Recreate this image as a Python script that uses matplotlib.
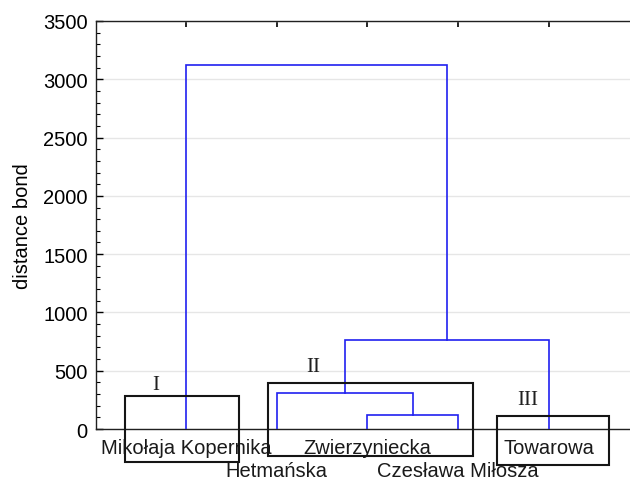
import matplotlib
matplotlib.use("Agg")
import matplotlib.pyplot as plt
from matplotlib.patches import Rectangle
from matplotlib.ticker import MultipleLocator

# ---- data ----
leaves = ["Mikołaja Kopernika", "Hetmańska", "Zwierzyniecka", "Czesława Miłosza", "Towarowa"]
# merges: (child_a, child_b, height); new nodes numbered from len(leaves)
merge_a = [2, 1, 6, 0]
merge_b = [3, 5, 4, 7]
merge_h = [120, 310, 765, 3120]
group_names = ["I", "II", "III"]

# ---- annotation geometry (data coords) ----
boxes = [(0.33, -283, 1.584, 283), (1.904, -231, 4.163, 394), (4.427, -309, 5.661, 111)]
group_pos = [(0.67, 386), (2.40, 535), (4.77, 257)]

plt.rcParams['font.family'] = ['Liberation Sans', 'DejaVu Sans']
fig = plt.figure(figsize=(6.30, 4.81), dpi=100)
ax = fig.add_axes([96/630, 1-430/481, 1-96/630, (430-22)/481])

# node coordinates
xs = {i: i + 1 for i in range(len(leaves))}
hs = {i: 0 for i in range(len(leaves))}
blue = '#2020f0'
for k, (a, b, h) in enumerate(zip(merge_a, merge_b, merge_h)):
    node = len(leaves) + k
    ax.plot([xs[a], xs[a], xs[b], xs[b]], [hs[a], h, h, hs[b]], color=blue, lw=1.2,
            solid_joinstyle='miter', zorder=3)
    xs[node] = (xs[a] + xs[b]) / 2
    hs[node] = h

ax.set_xlim(0.008, 5.893)
ax.set_ylim(0, 3500)
ax.yaxis.set_major_locator(MultipleLocator(500))
ax.yaxis.set_minor_locator(MultipleLocator(100))
ax.grid(axis='y', color='#e6e6e6', lw=1.0, zorder=0)
ax.set_axisbelow(True)

ax.set_xticks(range(1, len(leaves) + 1))
ax.set_xticklabels([])
ax.tick_params(axis='x', bottom=False, top=True, labelbottom=False, direction='in', length=4, width=1.2)
ax.tick_params(axis='y', which='major', direction='in', length=5, width=1.0, labelsize=14.5, pad=6)
ax.tick_params(axis='y', which='minor', direction='in', length=3, width=0.8)

# leaf labels in two alternating rows
xtrans = ax.get_xaxis_transform()
for i, t in enumerate(leaves):
    off = -30.2 if i % 2 else -13.0
    ax.annotate(t, xy=(i + 1, 0), xycoords=xtrans, xytext=(0, off), textcoords='offset points',
                ha='center', va='center', fontsize=14.5, color='#1a1a1a', annotation_clip=False)

for s in ['left', 'bottom', 'top']:
    ax.spines[s].set_linewidth(1.0)
    ax.spines[s].set_color('#202020')
ax.spines['right'].set_visible(False)

ax.set_ylabel("distance bond", fontsize=14.5)
ax.yaxis.set_label_coords(-0.138, 0.5)
ax.yaxis.label.set_va('center')

for (x0, y0, x1, y1) in boxes:
    ax.add_patch(Rectangle((x0, y0), x1 - x0, y1 - y0, fill=False, ec='#151515', lw=1.5,
                           clip_on=False, zorder=4))
for name, (x, y) in zip(group_names, group_pos):
    ax.text(x, y, name, family='Liberation Serif', fontsize=15, ha='center', va='center', color='#202020')

fig.savefig("out.png", dpi=100)
